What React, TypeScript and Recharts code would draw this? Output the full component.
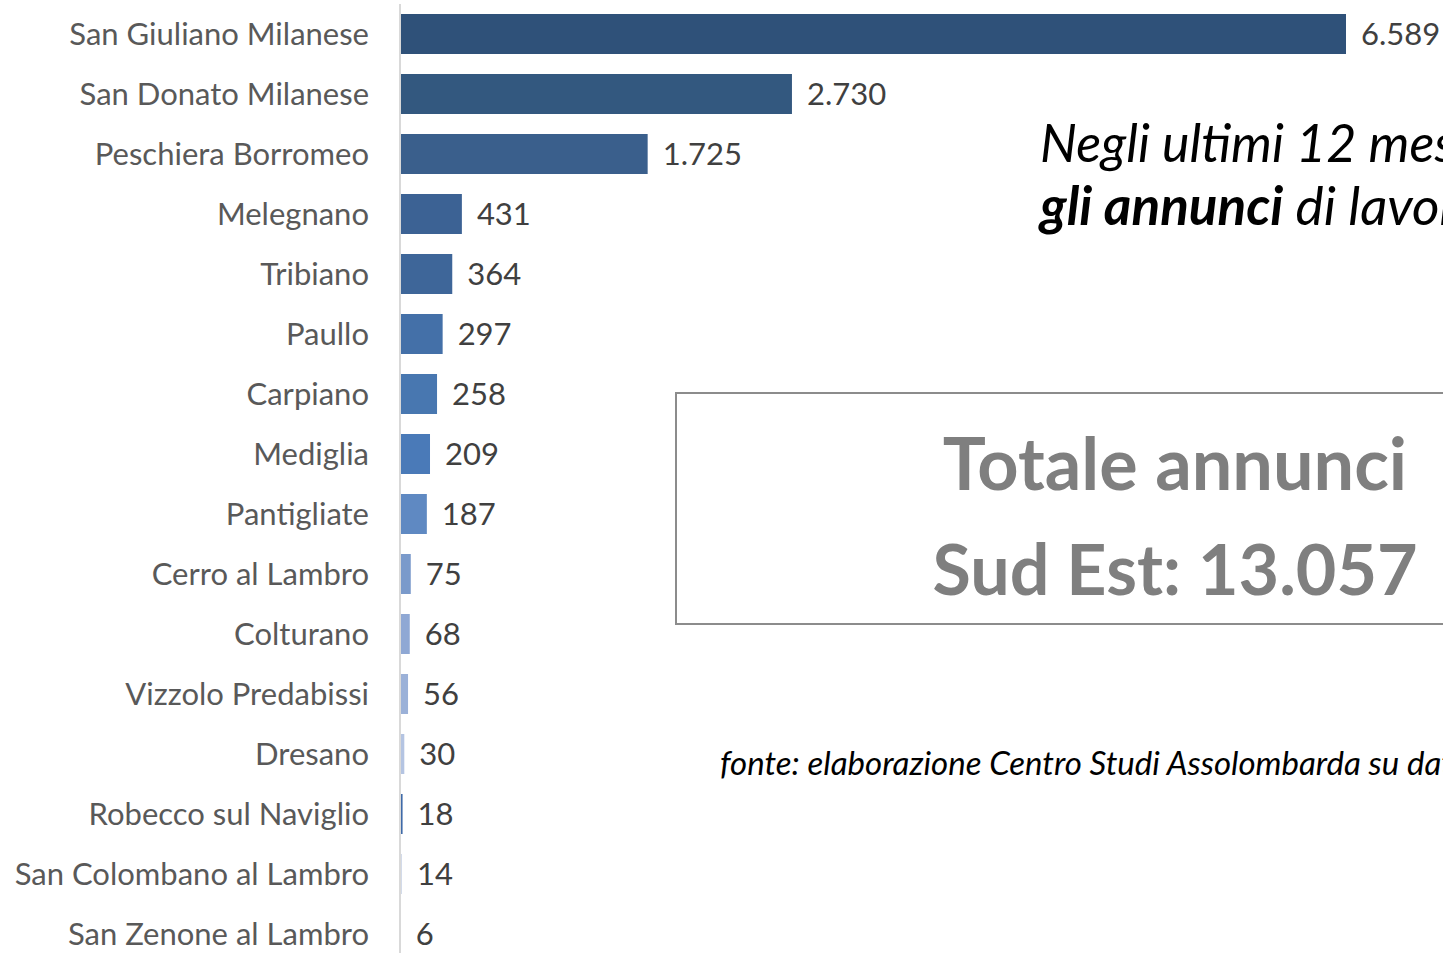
import React from 'react';
import { BarChart, Bar, XAxis, YAxis, Cell, LabelList } from 'recharts';

const categories = [
  'San Giuliano Milanese',
  'San Donato Milanese',
  'Peschiera Borromeo',
  'Melegnano',
  'Tribiano',
  'Paullo',
  'Carpiano',
  'Mediglia',
  'Pantigliate',
  'Cerro al Lambro',
  'Colturano',
  'Vizzolo Predabissi',
  'Dresano',
  'Robecco sul Naviglio',
  'San Colombano al Lambro',
  'San Zenone al Lambro',
];

const annunci = [6589, 2730, 1725, 431, 364, 297, 258, 209, 187, 75, 68, 56, 30, 18, 14, 6];

const barColors = [
  '#2f5179', '#33587f', '#3a5f8c', '#3c6294', '#3e6699', '#4470a8', '#4877b0', '#4a7ab8',
  '#5f89c2', '#7a9acb', '#8fa8d4', '#9bb1d8', '#b4c4e2', '#3f6aa8', '#d3dbea', '#d6dce8',
];

const FONT = "Lato, 'Open Sans', sans-serif";

const fmt = (v: number) => String(v).replace(/\B(?=(\d{3})+(?!\d))/g, '.');

const data = categories.map((name, i) => ({ name, value: annunci[i] }));

export default function App() {
  return (
    <div
      style={{
        position: 'fixed',
        top: 0,
        left: 0,
        width: 1443,
        height: 953,
        overflow: 'hidden',
        background: '#fff',
        fontFamily: FONT,
      }}
    >
      <BarChart
        layout="vertical"
        width={1443}
        height={964}
        data={data}
        margin={{ top: 4, right: 97, bottom: 0, left: 0 }}
        barSize={40}
      >
        <XAxis type="number" hide domain={[0, 'dataMax']} />
        <YAxis
          type="category"
          dataKey="name"
          width={400}
          interval={0}
          tickLine={false}
          tickSize={0}
          tickMargin={31}
          axisLine={{ stroke: '#d9d9d9', strokeWidth: 2 }}
          tick={{ fontSize: 31, fill: '#595959', fontFamily: FONT }}
        />
        <Bar dataKey="value" isAnimationActive={false}>
          {data.map((d, i) => (
            <Cell key={d.name} fill={barColors[i]} />
          ))}
          <LabelList
            dataKey="value"
            position="right"
            offset={15}
            formatter={(v: any) => fmt(Number(v))}
            style={{ fontSize: 31, fill: '#404040', fontFamily: FONT }}
          />
        </Bar>
      </BarChart>

      <svg
        width={1443}
        height={953}
        style={{ position: 'absolute', top: 0, left: 0, pointerEvents: 'none' }}
      >
        <text x={1040} y={162} fontSize={52} fontStyle="italic" fill="#000" fontFamily={FONT}>
          Negli ultimi 12 mesi
        </text>
        <text x={1040} y={225} fontSize={53} fontStyle="italic" fill="#000" fontFamily={FONT}>
          <tspan fontWeight="bold">gli annunci</tspan> di lavoro
        </text>

        <rect x={676} y={393} width={1000} height={231} fill="none" stroke="#8c8c8c" strokeWidth={2} />
        <text x={1175} y={490} fontSize={72} fontWeight="bold" fill="#7f7f7f" textAnchor="middle" fontFamily={FONT}>
          Totale annunci
        </text>
        <text x={1175} y={595} fontSize={70} fontWeight="bold" fill="#7f7f7f" textAnchor="middle" fontFamily={FONT}>
          Sud Est: 13.057
        </text>

        <text x={720} y={775} fontSize={33} fontStyle="italic" fill="#000" fontFamily={FONT}>
          fonte: elaborazione Centro Studi Assolombarda su dati
        </text>
      </svg>
    </div>
  );
}
